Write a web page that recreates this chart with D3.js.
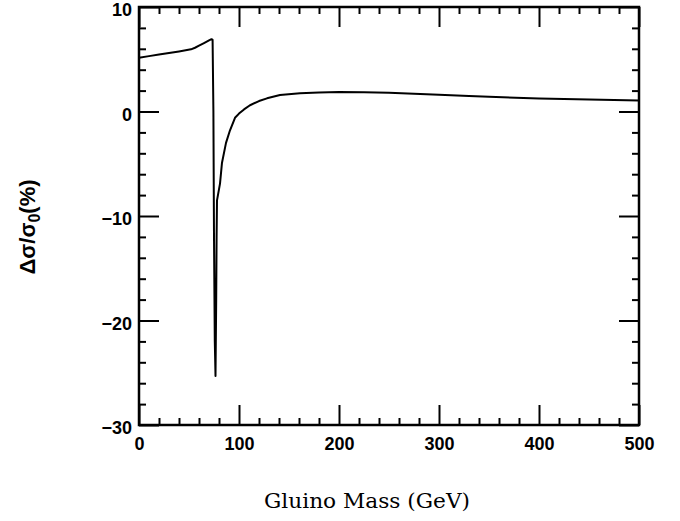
<!DOCTYPE html>
<html>
<head>
<meta charset="UTF-8">
<title>Gluino mass</title>
<script src="https://cdn.jsdelivr.net/npm/d3@7"></script>
<style>
  body { margin: 0; background: #fff; }
  .tick text { font-family: "Liberation Sans", Arial, sans-serif; font-weight: bold; font-size: 18px; fill: #000; }
  .domain { display: none; }
  .tick line { stroke: #000; stroke-width: 2px; }
</style>
</head>
<body>
<div id="chart"></div>
<script>
// gluino mass (GeV) and relative correction (%)
var mass  = [0, 10, 20, 30, 40, 52, 56, 60, 65, 70, 72.5, 73.6,
             74.4, 75, 75.8, 76.5, 77.2, 77.6, 78, 81, 83, 87, 91, 96,
             100, 105, 111, 120, 128, 141, 161, 180, 200, 225, 250,
             300, 330, 350, 400, 450, 500];
var delta = [5.15, 5.3, 5.45, 5.6, 5.75, 5.95, 6.1, 6.3, 6.55, 6.8, 6.92, 6.85,
             0, -12, -22, -25.3, -18, -12, -8.5, -6.9, -4.9, -3.0, -1.8, -0.6,
             -0.2, 0.2, 0.6, 1.0, 1.26, 1.58, 1.74, 1.82, 1.87, 1.85, 1.8,
             1.6, 1.48, 1.4, 1.25, 1.15, 1.05];
var xMajor = [0, 100, 200, 300, 400, 500];
var yMajor = [-30, -20, -10, 0, 10];

var width = 680, height = 521;
var margin = {top: 7, right: 41, bottom: 96, left: 139};
var w = width - margin.left - margin.right,
    h = height - margin.top - margin.bottom;

var svg = d3.select("#chart").append("svg")
    .attr("width", width)
    .attr("height", height);

var g = svg.append("g")
    .attr("transform", "translate(" + margin.left + "," + margin.top + ")");

var x = d3.scaleLinear().domain([0, 500]).range([0, w]);
var y = d3.scaleLinear().domain([-30, 10]).range([h, 0]);

var xMinor = d3.range(0, 501, 20).filter(function(v) { return v % 100 != 0; });
var yMinor = d3.range(-30, 11, 2).filter(function(v) { return v % 10 != 0; });
var fmt = function(d) { return d < 0 ? "\u2212" + Math.abs(d) : d; };

// minor ticks, all four sides
g.append("g").attr("transform", "translate(0," + h + ")")
    .call(d3.axisBottom(x).tickValues(xMinor).tickSize(-7).tickFormat(""));
g.append("g")
    .call(d3.axisTop(x).tickValues(xMinor).tickSize(-7).tickFormat(""));
g.append("g")
    .call(d3.axisLeft(y).tickValues(yMinor).tickSize(-7).tickFormat(""));
g.append("g").attr("transform", "translate(" + w + ",0)")
    .call(d3.axisRight(y).tickValues(yMinor).tickSize(-7).tickFormat(""));

// major ticks
g.append("g").attr("transform", "translate(0," + h + ")")
    .call(d3.axisBottom(x).tickValues(xMajor).tickSize(-20).tickPadding(11).tickFormat(fmt))
    .selectAll("text").attr("y", 12).attr("dy", "0.71em");
g.append("g")
    .call(d3.axisTop(x).tickValues(xMajor).tickSize(-20).tickFormat(""));
g.append("g")
    .call(d3.axisLeft(y).tickValues(yMajor).tickSize(-20).tickPadding(7).tickFormat(fmt))
    .selectAll("text").attr("dy", "0.48em");
g.append("g").attr("transform", "translate(" + w + ",0)")
    .call(d3.axisRight(y).tickValues(yMajor).tickSize(-20).tickFormat(""));

// frame
g.append("rect")
    .attr("width", w).attr("height", h)
    .attr("fill", "none")
    .attr("stroke", "#000")
    .attr("stroke-width", 2.5);

var line = d3.line()
    .x(function(d, i) { return x(mass[i]); })
    .y(function(d, i) { return y(delta[i]); });

g.append("path")
    .datum(mass)
    .attr("d", line)
    .attr("fill", "none")
    .attr("stroke", "#000")
    .attr("stroke-width", 2)
    .attr("stroke-linejoin", "round");

// axis titles
svg.append("text")
    .attr("x", 367)
    .attr("y", 508)
    .attr("text-anchor", "middle")
    .style("font-family", "'DejaVu Serif', serif")
    .style("font-size", "20px")
    .attr("textLength", 206)
    .attr("lengthAdjust", "spacingAndGlyphs")
    .text("Gluino Mass (GeV)");

var yl = svg.append("text")
    .attr("transform", "translate(35,227) rotate(-90)")
    .attr("text-anchor", "middle")
    .style("font-family", "'Liberation Sans', Arial, sans-serif")
    .style("font-weight", "bold")
    .style("font-size", "22px");
yl.append("tspan").text("\u0394\u03c3/\u03c3");
yl.append("tspan").attr("dy", 5).style("font-size", "16px").text("0");
yl.append("tspan").attr("dy", -5).text("(%)");
</script>
</body>
</html>
